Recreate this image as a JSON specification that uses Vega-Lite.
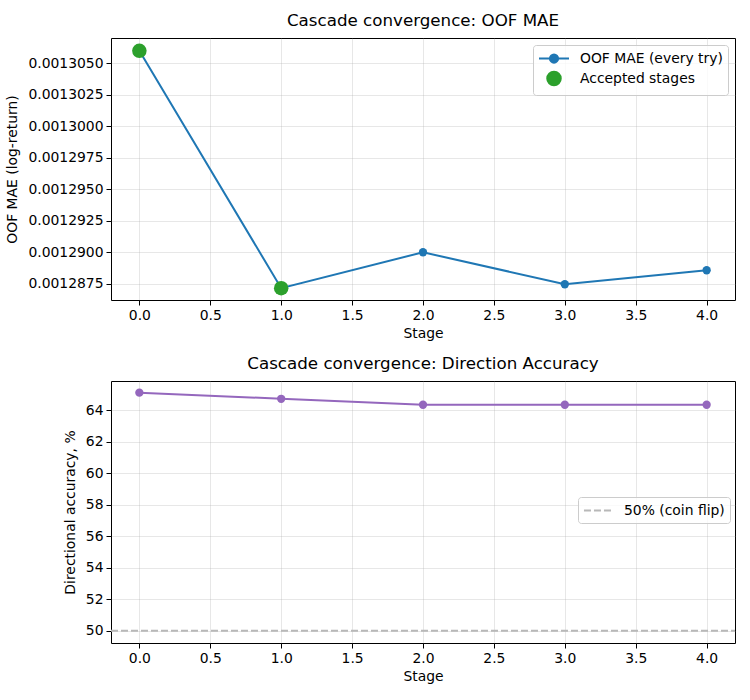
{
  "$schema": "https://vega.github.io/schema/vega-lite/v6.json",
  "background": "white",
  "padding": {"left": 5, "top": 12, "right": 10, "bottom": 5},
  "spacing": 13,
  "datasets": {
    "mae": [
      {"stage": 0, "mae": 0.00130598},
      {"stage": 1, "mae": 0.00128714},
      {"stage": 2, "mae": 0.00128999},
      {"stage": 3, "mae": 0.00128745},
      {"stage": 4, "mae": 0.00128856}
    ],
    "accepted": [
      {"stage": 0, "mae": 0.00130598},
      {"stage": 1, "mae": 0.00128714}
    ],
    "diracc": [
      {"stage": 0, "acc": 65.13},
      {"stage": 1, "acc": 64.74},
      {"stage": 2, "acc": 64.36},
      {"stage": 3, "acc": 64.36},
      {"stage": 4, "acc": 64.36}
    ],
    "coin": [{"level": 50}],
    "nolegendrows": []
  },
  "vconcat": [
    {
      "width": 624,
      "height": 262,
      "title": "Cascade convergence: OOF MAE",
      "encoding": {
        "x": {
          "field": "stage", "type": "quantitative",
          "scale": {"domain": [-0.2, 4.2], "nice": false, "zero": false},
          "axis": {"values": [0, 0.5, 1, 1.5, 2, 2.5, 3, 3.5, 4], "format": ".1f", "title": "Stage"}
        },
        "y": {
          "field": "mae", "type": "quantitative",
          "scale": {"domain": [0.0012862, 0.001307], "nice": false, "zero": false},
          "axis": {"values": [0.0012875, 0.00129, 0.0012925, 0.001295, 0.0012975, 0.0013, 0.0013025, 0.001305], "format": ".7f", "title": "OOF MAE (log-return)"}
        }
      },
      "layer": [
        {
          "data": {"name": "mae"},
          "mark": {"type": "line", "color": "#1f77b4", "strokeWidth": 2}
        },
        {
          "data": {"name": "mae"},
          "mark": {"type": "point", "filled": true, "opacity": 1, "size": 69, "shape": "circle", "color": "#1f77b4"}
        },
        {
          "data": {"name": "accepted"},
          "mark": {"type": "point", "filled": true, "opacity": 1, "size": 210, "shape": "circle", "color": "#2ca02c"}
        },
        {
          "data": {"name": "nolegendrows"},
          "mark": {"type": "point", "opacity": 1, "size": 225, "strokeWidth": 2},
          "encoding": {
            "fill": {
              "field": "series", "type": "nominal",
              "scale": {"domain": ["OOF MAE (every try)", "Accepted stages"], "range": ["#1f77b4", "#2ca02c"]},
              "legend": {
                "title": null,
                "orient": "top-right",
                "offset": 7,
                "padding": 5,
                "symbolOffset": 7.5,
                "labelOffset": 17.5,
                "rowPadding": 0,
                "symbolSize": 225,
                "symbolStrokeWidth": 2,
                "symbolOpacity": 1,
                "strokeColor": "#cccccc",
                "fillColor": "rgba(255,255,255,0.8)",
                "cornerRadius": 3,
                "labelFontSize": 13.9,
                "labelColor": "black",
                "labelFont": "DejaVu Sans"
              }
            },
            "stroke": {
              "field": "series", "type": "nominal",
              "scale": {"domain": ["OOF MAE (every try)", "Accepted stages"], "range": ["#1f77b4", "#2ca02c"]},
              "legend": {"title": null}
            },
            "shape": {
              "field": "series", "type": "nominal",
              "scale": {"domain": ["OOF MAE (every try)", "Accepted stages"], "range": ["M-2,0 L2,0 M0.55,0 A0.55,0.55 0 1,1 -0.55,0 A0.55,0.55 0 1,1 0.55,0 Z", "M0.9,0 A0.9,0.9 0 1,1 -0.9,0 A0.9,0.9 0 1,1 0.9,0 Z"]},
              "legend": {"title": null}
            }
          }
        }
      ]
    },
    {
      "width": 624,
      "height": 262,
      "title": "Cascade convergence: Direction Accuracy",
      "encoding": {
        "x": {
          "field": "stage", "type": "quantitative",
          "scale": {"domain": [-0.2, 4.2], "nice": false, "zero": false},
          "axis": {"values": [0, 0.5, 1, 1.5, 2, 2.5, 3, 3.5, 4], "format": ".1f", "title": "Stage"}
        }
      },
      "layer": [
        {
          "data": {"name": "diracc"},
          "mark": {"type": "line", "color": "#9467bd", "strokeWidth": 2, "point": {"filled": true, "size": 69, "color": "#9467bd", "opacity": 1}},
          "encoding": {
            "y": {
              "field": "acc", "type": "quantitative",
              "scale": {"domain": [49.22, 65.87], "nice": false, "zero": false},
              "axis": {"values": [50, 52, 54, 56, 58, 60, 62, 64], "format": "d", "title": "Directional accuracy, %", "labelOverlap": false}
            }
          }
        },
        {
          "data": {"name": "coin"},
          "mark": {"type": "rule", "strokeWidth": 2, "strokeDash": [7, 3]},
          "encoding": {
            "x": {"value": 0},
            "x2": {"value": 624},
            "y": {
              "field": "level", "type": "quantitative",
              "axis": {"values": [50, 52, 54, 56, 58, 60, 62, 64], "format": "d", "title": "Directional accuracy, %", "labelOverlap": false}
            },
            "color": {
              "datum": "50% (coin flip)",
              "type": "nominal",
              "scale": {"range": ["#b8b8b8"]},
              "legend": {
                "title": null,
                "orient": "none",
                "legendX": 467,
                "legendY": 116,
                "padding": 5,
                "symbolOffset": 6.5,
                "labelOffset": 17.5,
                "symbolType": "M-1.87,0 L1.87,0",
                "symbolSize": 225,
                "symbolStrokeWidth": 2,
                "symbolDash": [7, 3],
                "strokeColor": "#cccccc",
                "fillColor": "rgba(255,255,255,0.8)",
                "cornerRadius": 3,
                "labelFontSize": 13.9,
                "labelColor": "black",
                "labelFont": "DejaVu Sans"
              }
            }
          }
        }
      ],
      "resolve": {"scale": {"color": "independent"}}
    }
  ],
  "resolve": {"scale": {"color": "independent", "fill": "independent", "stroke": "independent", "shape": "independent"}},
  "config": {
    "font": "DejaVu Sans",
    "view": {"stroke": "black", "strokeWidth": 1},
    "axis": {
      "domain": false,
      "grid": true,
      "gridColor": "#b0b0b0",
      "gridOpacity": 0.3,
      "gridWidth": 1,
      "ticks": true,
      "tickColor": "black",
      "tickSize": 5,
      "labelFontSize": 13.9,
      "labelColor": "black",
      "labelFont": "DejaVu Sans",
      "labelPadding": 3,
      "titleFontSize": 13.9,
      "titleFontWeight": "normal",
      "titleColor": "black",
      "titleFont": "DejaVu Sans",
      "titlePadding": 5
    },
    "axisY": {"titlePadding": 8},
    "title": {"fontSize": 16.7, "fontWeight": "normal", "color": "black", "offset": 8, "font": "DejaVu Sans"}
  }
}
